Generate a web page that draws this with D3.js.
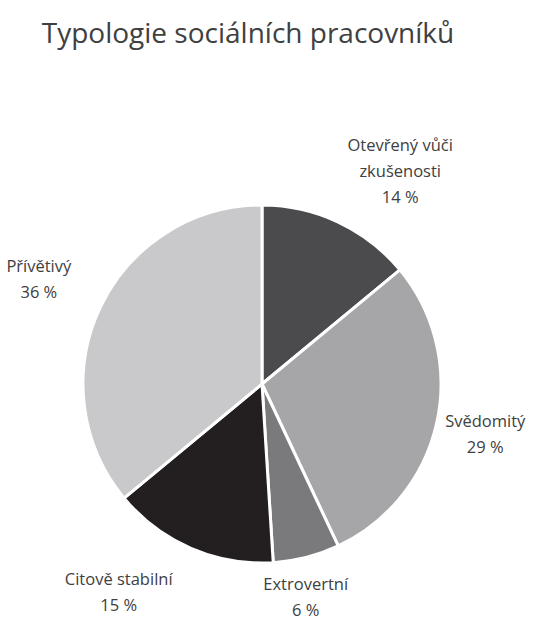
<!DOCTYPE html>
<html>
<head>
<meta charset="utf-8">
<script src="https://cdn.jsdelivr.net/npm/d3@7"></script>
<style>
  body { margin: 0; background: #fff; }
</style>
</head>
<body>
<script>
// Donnees
var categories = ['Otevřený vůči zkušenosti', 'Svědomitý', 'Extrovertní', 'Citově stabilní', 'Přívětivý']
var values = [14, 29, 6, 15, 36]
var labelLines = [['Otevřený vůči', 'zkušenosti'], ['Svědomitý'], ['Extrovertní'], ['Citově stabilní'], ['Přívětivý']]

// Couleurs et dimensions
var colours = ['#4b4b4d', '#a6a6a8', '#7a7a7c', '#231f20', '#c9c9cb']
var width = 539
var height = 621
var cx = 262
var cy = 384
var radius = 179

// petit decalage des etiquettes (comme Excel)
var nudge = [[36, 4], [-11, -2], [-16, -19], [-48, -12], [-6, -3]]

var svg = d3.select('body').append('svg')
    .attr('width', width)
    .attr('height', height)

svg.append('text')
    .attr('x', 248)
    .attr('y', 43)
    .attr('text-anchor', 'middle')
    .attr('font-family', 'Open Sans, sans-serif')
    .attr('font-size', '28px')
    .attr('fill', '#404040')
    .text('Typologie sociálních pracovníků')

var pie = d3.pie().sort(null).value(d => d)
var arcs = pie(values)

var arc = d3.arc().innerRadius(0).outerRadius(radius)
var labelArc = d3.arc().innerRadius(240).outerRadius(240)

var g = svg.append('g').attr('transform', `translate(${cx},${cy})`)

g.selectAll('path')
    .data(arcs)
    .join('path')
    .attr('d', arc)
    .attr('fill', (d, i) => colours[i])
    .attr('stroke', '#fff')
    .attr('stroke-width', 3)
    .attr('stroke-linejoin', 'round')

var labels = g.selectAll('g.lbl')
    .data(arcs)
    .join('g')
    .attr('class', 'lbl')
    .attr('transform', (d, i) => {
        var c = labelArc.centroid(d)
        return `translate(${c[0] + nudge[i][0]},${c[1] + nudge[i][1]})`
    })
    .attr('text-anchor', 'middle')
    .attr('font-family', 'Open Sans, sans-serif')
    .attr('font-size', '16.5px')
    .attr('fill', '#404040')

labels.each(function (d, i) {
    var lines = labelLines[i].concat([values[i] + ' %'])
    var lh = 26
    var top = -(lines.length - 1) * lh / 2
    d3.select(this).selectAll('text')
        .data(lines)
        .join('text')
        .attr('y', (t, j) => top + j * lh)
        .attr('dy', '0.35em')
        .text(t => t)
})
</script>
</body>
</html>
